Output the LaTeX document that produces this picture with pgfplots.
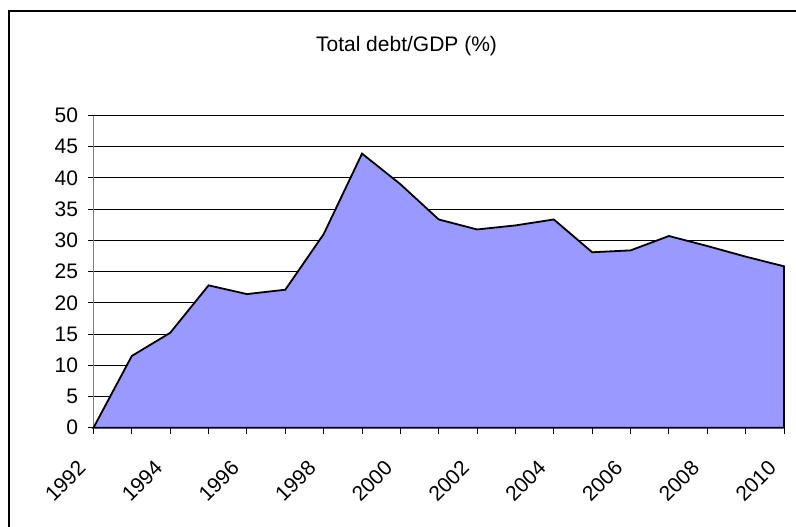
\documentclass[border=0pt]{standalone}
\usepackage{pgfplots}
\pgfplotsset{compat=1.18}
\usepackage{fontspec}
\setmainfont{Liberation Sans}
\definecolor{areafill}{HTML}{9999FF}
\begin{document}
\begin{tikzpicture}
\useasboundingbox (0,0) rectangle (398pt,263pt);
\draw[black, line width=0.85pt] (4.5pt,-5pt) -- (4.5pt,257.5pt) -- (405pt,257.5pt);
\node[font=\fontsize{10.5}{12}\selectfont] at (203.25pt,240pt) {Total debt/GDP (\%)};
\begin{axis}[
  at={(46.75pt,49.15pt)}, anchor=south west,
  scale only axis, width=345.25pt, height=156.1pt,
  xmin=1992, xmax=2010, ymin=0, ymax=50,
  axis lines*=left,
  x axis line style={black, line width=0.6pt},
  y axis line style={gray, line width=0.8pt},
  xtick={1992,1994,...,2010},
  minor xtick={1993,1995,...,2009},
  xticklabels={1992,1994,1996,1998,2000,2002,2004,2006,2008,2010},
  ytick={0,5,...,50},
  tick align=outside, major tick length=3pt, minor tick length=3pt,
  tick style={black, line width=0.5pt},
  minor tick style={black, line width=0.5pt},
  ymajorgrids, grid style={black, line width=0.5pt},
  /pgf/number format/assume math mode=true,
  tick label style={font=\fontsize{10.5}{12}\selectfont},
  yticklabel style={anchor=east, inner sep=0pt, xshift=-4.5pt},
  xticklabel style={inner sep=0pt, xshift=-8.5pt, yshift=-12.5pt, rotate=45, anchor=north east},
  clip=false,
]
\addplot[fill=areafill, draw=black, line width=0.9pt] coordinates {
(1992,0) (1993,11.5) (1994,15.2) (1995,22.8) (1996,21.4) (1997,22.1)
(1998,31.0) (1999,43.9) (2000,39.0) (2001,33.35) (2002,31.75) (2003,32.4)
(2004,33.35) (2005,28.1) (2006,28.4) (2007,30.7) (2008,29.1) (2009,27.4) (2010,25.85)
} \closedcycle;
\end{axis}
\end{tikzpicture}
\end{document}
